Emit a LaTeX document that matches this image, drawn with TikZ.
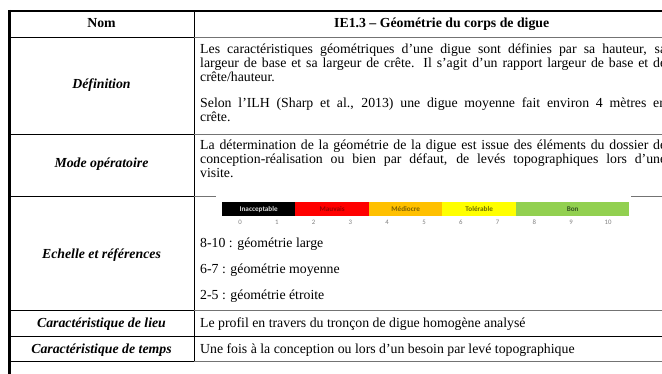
\documentclass[tikz,border=0pt]{standalone}
\usepackage{fontspec}
\setmainfont{Liberation Serif}
\newfontfamily\calib{Carlito}
\begin{document}
\begin{tikzpicture}[x=1pt,y=-1pt,
  txt/.style={anchor=base west,inner sep=0pt,font=\fontsize{13.8}{13.6}\selectfont},
  lab/.style={anchor=base,inner sep=0pt,font=\fontsize{13.8}{13.6}\selectfont\bfseries\itshape},
  hd/.style={anchor=base,inner sep=0pt,font=\fontsize{13.8}{13.6}\selectfont\bfseries},
  seg/.style={draw=none,inner sep=0pt,minimum height=14pt,anchor=north west,font=\calib\bfseries\fontsize{7.2}{8}\selectfont},
  num/.style={anchor=base,inner sep=0pt,text=black!50,font=\calib\fontsize{6.8}{8}\selectfont},
  rulel/.style={line width=1pt,black},
  ruler/.style={line width=1pt,black!55},
  outer/.style={line width=3pt,black}]
\useasboundingbox (0,0) rectangle (662,374);
\clip (0,0) rectangle (662,374);
\fill[white] (0,0) rectangle (662,374);

% table rules
\draw[outer] (9.5,9.8) -- (9.5,374);
\draw[line width=2.5pt] (8,11) -- (662,11);
\draw[rulel] (194,11) -- (194,362.5);
\draw[rulel] (9.5,37.5) -- (194,37.5);
\draw[ruler] (194,37.5) -- (662,37.5);
\draw[rulel] (9.5,134.5) -- (194,134.5);
\draw[ruler] (194,134.5) -- (662,134.5);
\draw[rulel] (9.5,196.5) -- (194,196.5);
\draw[ruler] (194,196.5) -- (216,196.5);
\draw[ruler] (631,196.5) -- (662,196.5);
\draw[rulel] (9.5,311) -- (194,311);
\draw[ruler] (194,311) -- (662,311);
\draw[rulel] (9.5,336.5) -- (194,336.5);
\draw[rulel] (194,336.5) -- (662,336.5);
\draw[rulel] (9.5,362) -- (194,362);
\draw[ruler] (194,362) -- (662,362);

% header
\node[hd] (nom) at (101.5,28) {Nom};
\node[hd,anchor=base west] (titre) at (334,28) {IE1.3 – Géométrie du corps de digue};

% left labels
\node[lab] (ldef) at (101.5,89) {Définition};
\node[lab] (lmode) at (101.5,168) {Mode opératoire};
\node[lab] (lech) at (101.5,259) {Echelle et références};
\node[lab] (llieu) at (101.5,327) {Caractéristique de lieu};
\node[lab] (ltemps) at (101.5,353) {Caractéristique de temps};

% Définition
\node[txt] (d1) at (200,54) {\makebox[466pt][s]{Les caractéristiques géométriques d’une digue sont définies par sa hauteur, sa}};
\node[txt] (d2) at (200,67.6) {\makebox[466pt][s]{largeur de base et sa largeur de crête. Il s’agit d’un rapport largeur de base et de}};
\node[txt] (d3) at (200,81.2) {crête/hauteur.};
\node[txt] (d4) at (200,108) {\makebox[466pt][s]{Selon l’ILH (Sharp et al., 2013) une digue moyenne fait environ 4 mètres en}};
\node[txt] (d5) at (200,121.6) {crête.};

% Mode opératoire
\node[txt] (m1) at (200,150) {\makebox[466pt][s]{La détermination de la géométrie de la digue est issue des éléments du dossier de}};
\node[txt] (m2) at (200,163.6) {\makebox[466pt][s]{conception-réalisation ou bien par défaut, de levés topographiques lors d’une}};
\node[txt] (m3) at (200,177.2) {visite.};

% scale bar
\node[seg,fill=black,minimum width=73pt,text=white!85!black] (s0) at (222,202) {Inacceptable};
\node[seg,fill=red,minimum width=74pt,text=red!60!black] (s1) at (295,202) {Mauvais};
\node[seg,fill={rgb,255:red,255;green,192;blue,0},minimum width=73pt,text={rgb,255:red,127;green,96;blue,0}] (s2) at (369,202) {Médiocre};
\node[seg,fill={rgb,255:red,255;green,255;blue,0},minimum width=74pt,text={rgb,255:red,110;green,110;blue,0}] (s3) at (442,202) {Tolérable};
\node[seg,fill={rgb,255:red,146;green,208;blue,80},minimum width=113pt,text={rgb,255:red,55;green,86;blue,35}] (s4) at (516,202) {Bon};
\foreach \k in {0,...,10} {
  \node[num] (n\k) at (240+36.8*\k,225) {\k};
}

% Echelle
\node[txt] (e1) at (200,248) {8-10 : géométrie large};
\node[txt] (e2) at (200,274) {6-7 : géométrie moyenne};
\node[txt] (e3) at (200,299.5) {2-5 : géométrie étroite};

% lieu / temps
\node[txt] (lieu) at (200,327) {Le profil en travers du tronçon de digue homogène analysé};
\node[txt] (temps) at (200,353) {Une fois à la conception ou lors d’un besoin par levé topographique};
\end{tikzpicture}
\end{document}
